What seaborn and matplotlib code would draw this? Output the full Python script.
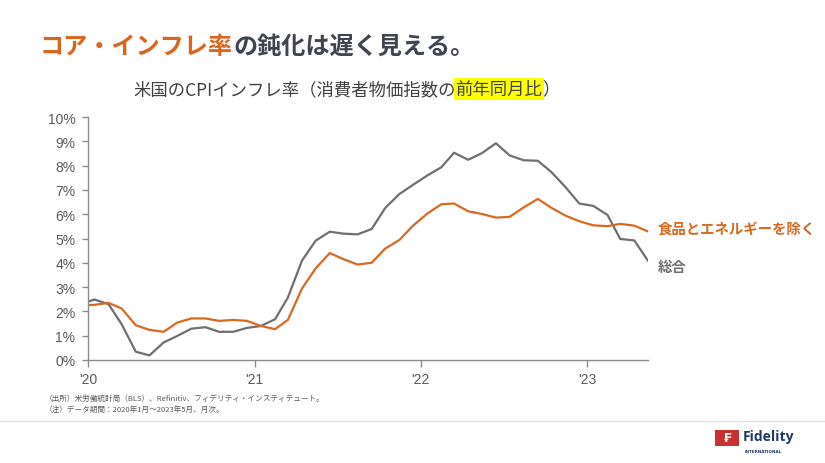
import pandas as pd
import matplotlib.pyplot as plt
import matplotlib.dates as mdates
from matplotlib.patches import Rectangle
from matplotlib.lines import Line2D
import seaborn as sns

sns.set_theme(style="white")
plt.rcParams['font.family'] = ['Noto Sans CJK JP', 'DejaVu Sans']

# monthly YoY, Dec 2019 .. May 2023 (plotted mid-month, axis starts Jan 2020)
months = pd.date_range("2019-12-01", "2023-05-01", freq="MS") + pd.Timedelta(days=14)
headline = [2.29,
            2.49, 2.30, 1.47, 0.34, 0.19, 0.72, 0.99, 1.29, 1.35, 1.16, 1.16, 1.32,
            1.40, 1.68, 2.57, 4.09, 4.91, 5.28, 5.20, 5.17, 5.39, 6.26, 6.83, 7.21,
            7.59, 7.93, 8.53, 8.24, 8.51, 8.92, 8.42, 8.22, 8.20, 7.73, 7.11, 6.44,
            6.34, 5.97, 4.98, 4.92, 4.08]
core = [2.25,
        2.27, 2.35, 2.12, 1.43, 1.24, 1.16, 1.54, 1.71, 1.71, 1.61, 1.65, 1.61,
        1.40, 1.27, 1.65, 2.94, 3.77, 4.40, 4.15, 3.93, 4.00, 4.59, 4.94, 5.53,
        6.02, 6.41, 6.44, 6.12, 6.01, 5.86, 5.89, 6.28, 6.63, 6.26, 5.94, 5.71,
        5.54, 5.51, 5.60, 5.53, 5.29]
label_core = "食品とエネルギーを除く"
label_head = "総合"
yticks = list(range(0, 11))

ORANGE = "#D8691F"
GRAY = "#6F6F6F"
AXIS = "#8C8C8C"
TXT = "#595959"

df = pd.DataFrame({"month": list(months) * 2,
                   "value": headline + core,
                   "series": [label_head] * len(months) + [label_core] * len(months)})

fig = plt.figure(figsize=(8.25, 4.64), dpi=100)
ax = fig.add_axes([88 / 825, 1 - 361 / 464, (648 - 88) / 825, (361 - 118) / 464])
sns.lineplot(data=df, x="month", y="value", hue="series",
             hue_order=[label_head, label_core],
             palette={label_head: GRAY, label_core: ORANGE},
             linewidth=1.6, legend=False, ax=ax)

ax.set_xlim(pd.Timestamp("2020-01-01"), months[-1])
ax.set_ylim(0, 10)
ax.set_yticks(yticks)
ax.set_yticklabels([f"{t}%" for t in yticks])
ax.xaxis.set_major_locator(mdates.YearLocator())
ax.xaxis.set_major_formatter(mdates.DateFormatter("'%y"))
ax.set_xlabel("")
ax.set_ylabel("")
for s in ["top", "right"]:
    ax.spines[s].set_visible(False)
for s in ["left", "bottom"]:
    ax.spines[s].set_color(AXIS)
    ax.spines[s].set_linewidth(1.0)
ax.tick_params(axis="y", left=True, length=4, width=1, color=AXIS,
               labelcolor=TXT, pad=5)
ax.tick_params(axis="x", bottom=True, length=5, width=1, color=AXIS,
               labelcolor=TXT, pad=4)
for lab in ax.get_yticklabels() + ax.get_xticklabels():
    lab.set_family(['Liberation Sans', 'DejaVu Sans'])
    lab.set_fontsize(10)

renderer = fig.canvas.get_renderer()
W = 825.0

def put_after(prev, txt, **kw):
    bb = prev.get_window_extent(renderer=renderer)
    return fig.text(bb.x1 / W, prev.get_position()[1], txt, **kw)

# title
t1 = fig.text(40 / W, 1 - 47 / 464, "コア・インフレ率", color="#D9661F",
              fontsize=17.4, fontweight="bold", va="center", ha="left")
put_after(t1, "の鈍化は遅く見える。", color="#3E4550",
          fontsize=17.4, fontweight="bold", va="center", ha="left")

# subtitle
s1 = fig.text(133 / W, 1 - 90 / 464, "米国のCPIインフレ率（消費者物価指数の",
              color="#404040", fontsize=12.5, va="center", ha="left")
s2 = put_after(s1, "前年同月比", color="#404040", fontsize=12.5, va="center", ha="left",
               bbox=dict(boxstyle="square,pad=0.1", facecolor="#FFFF00", edgecolor="none"))
put_after(s2, "）", color="#404040", fontsize=12.5, va="center", ha="left")

# series labels
fig.text(658 / W, 1 - 230 / 464, label_core, color=ORANGE, fontsize=10.4,
         fontweight="bold", va="center", ha="left")
fig.text(658 / W, 1 - 268 / 464, label_head, color=GRAY, fontsize=10.4,
         fontweight="bold", va="center", ha="left")

# notes
fig.text(45 / W, 1 - 399 / 464, "（出所）米労働統計局（BLS）、Refinitiv、フィデリティ・インスティテュート。",
         color=TXT, fontsize=5.5, va="center", ha="left")
fig.text(45 / W, 1 - 410 / 464, "（注）データ期間：2020年1月～2023年5月、月次。",
         color=TXT, fontsize=5.5, va="center", ha="left")

# footer separator and logo
fig.add_artist(Line2D([0, 1], [1 - 421.5 / 464] * 2, color="#E3E3E3", linewidth=1))
fig.add_artist(Rectangle((715 / W, 1 - 447 / 464), 24 / W, 16 / 464,
                         facecolor="#C8312D", edgecolor="none"))
fig.text(727 / W, 1 - 439 / 464, "₣", color="white", fontsize=9, fontweight="bold",
         va="center", ha="center", family=["DejaVu Sans"])
fig.text(743 / W, 1 - 437 / 464, "Fidelity", color="#1E3B66", fontsize=10,
         fontweight="bold", va="center", ha="left", family=["Open Sans", "DejaVu Sans"])
fig.text(745 / W, 1 - 452 / 464, "INTERNATIONAL", color="#1E3B66", fontsize=3,
         fontweight="bold", va="center", ha="left", family=["DejaVu Sans"])

fig.savefig("out.png", dpi=100)
